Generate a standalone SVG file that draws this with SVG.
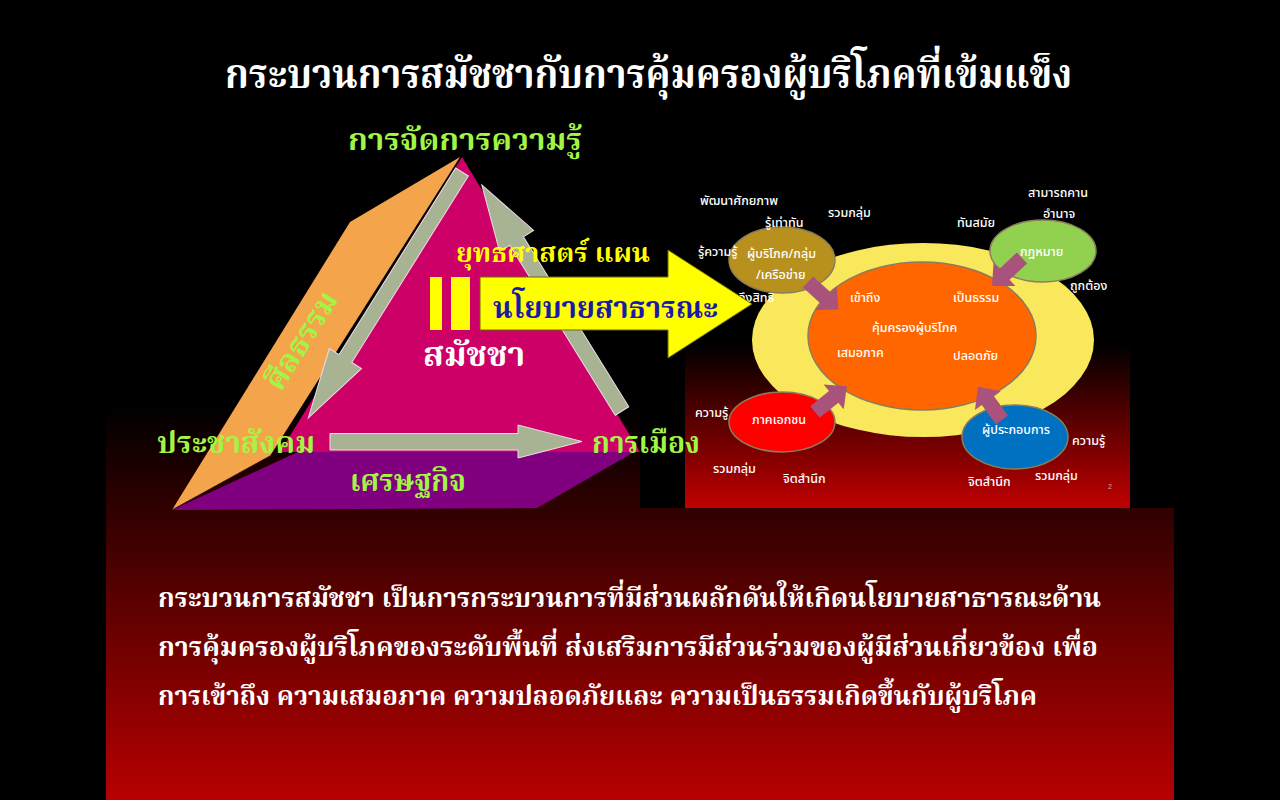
<svg xmlns="http://www.w3.org/2000/svg" width="1280" height="800" viewBox="0 0 1280 800">
<defs>
<linearGradient id="bgGrad" x1="0" y1="0" x2="0" y2="1">
<stop offset="0" stop-color="#000000"/>
<stop offset="1" stop-color="#b80000"/>
</linearGradient>
<linearGradient id="picGrad" x1="0" y1="0" x2="0" y2="1">
<stop offset="0.5" stop-color="#000000"/>
<stop offset="1" stop-color="#c00000"/>
</linearGradient>
<polygon id="mauveArrow" points="0,-7.5 24,-7.5 24,-16 41,0 24,16 24,7.5 0,7.5"/>
</defs>
<style>
.serif { font-family: "Noto Serif Thai", "Noto Sans Thai", "Liberation Serif", serif; font-weight: bold; }
.green { fill: #a2f545; }
.small { font-family: "Noto Sans Thai", "Noto Sans", "Liberation Sans", sans-serif; font-size: 12.5px; font-weight: 500; fill: #ffffff; }
.tiny { font-family: "Liberation Sans", sans-serif; font-size: 7px; fill: #e0a0a0; }
.grey { fill: #a8b394; stroke: #f0dce6; stroke-width: 1; }
.mauve { fill: #a8527c; }
.ell { stroke: #8a7d5c; stroke-width: 1.5; }
</style>
<rect x="0" y="0" width="1280" height="800" fill="#000000"/>
<rect x="106" y="405" width="1068" height="395" fill="url(#bgGrad)"/>
<rect x="640" y="400" width="534" height="108" fill="#000000"/>

<g id="title">
<text x="225" y="88" class="serif" font-size="40" fill="#ffffff" textLength="847" lengthAdjust="spacingAndGlyphs">กระบวนการสมัชชากับการคุ้มครองผู้บริโภคที่เข้มแข็ง</text>
</g>

<g id="consumer-protection-picture">
<rect x="685" y="180" width="445" height="328" fill="url(#picGrad)"/>
<g id="outer-ring"><ellipse cx="923" cy="340" rx="171" ry="97" fill="#f9e85c"/></g>
<g id="core"><ellipse cx="922" cy="336" rx="114" ry="74" fill="#ff6600" class="ell"/></g>
<g id="node-consumer"><ellipse cx="782" cy="260" rx="53" ry="33" fill="#b8901e" class="ell"/></g>
<g id="node-law"><ellipse cx="1043" cy="251" rx="53" ry="31" fill="#92d050" class="ell"/></g>
<g id="node-private"><ellipse cx="782" cy="422" rx="53" ry="30" fill="#ff0000" class="ell"/></g>
<g id="node-operator"><ellipse cx="1015" cy="437" rx="53" ry="32" fill="#0070c0" class="ell"/></g>
<g id="picture-connectors">
<use href="#mauveArrow" class="mauve" transform="translate(808,282) rotate(42)"/>
<use href="#mauveArrow" class="mauve" transform="translate(1022,258) rotate(137)"/>
<use href="#mauveArrow" class="mauve" transform="translate(815,412) rotate(-39)"/>
<use href="#mauveArrow" class="mauve" transform="translate(1002,420) rotate(-126)"/>
</g>
<g id="picture-labels">
<text x="700" y="205" class="small">พัฒนาศักยภาพ</text>
<text x="828" y="217" class="small">รวมกลุ่ม</text>
<text x="765" y="227" class="small">รู้เท่าทัน</text>
<text x="698" y="256" class="small">รู้ความรู้</text>
<text x="747" y="258" class="small">ผู้บริโภค/กลุ่ม</text>
<text x="756" y="279" class="small">/เครือข่าย</text>
<text x="738" y="302" class="small">ถึงสิทธิ</text>
<text x="957" y="227" class="small">ทันสมัย</text>
<text x="1028" y="197" class="small">สามารถคาน</text>
<text x="1043" y="218" class="small">อำนาจ</text>
<text x="1020" y="256" class="small">กฎหมาย</text>
<text x="1070" y="290" class="small">ถูกต้อง</text>
<text x="850" y="302" class="small">เข้าถึง</text>
<text x="953" y="302" class="small">เป็นธรรม</text>
<text x="872" y="332" class="small">คุ้มครองผู้บริโภค</text>
<text x="837" y="357" class="small">เสมอภาค</text>
<text x="953" y="360" class="small">ปลอดภัย</text>
<text x="695" y="417" class="small">ความรู้</text>
<text x="752" y="424" class="small">ภาคเอกชน</text>
<text x="982" y="434" class="small">ผู้ประกอบการ</text>
<text x="1072" y="445" class="small">ความรู้</text>
<text x="713" y="473" class="small">รวมกลุ่ม</text>
<text x="783" y="483" class="small">จิตสำนึก</text>
<text x="968" y="486" class="small">จิตสำนึก</text>
<text x="1035" y="480" class="small">รวมกลุ่ม</text>
<text x="1108" y="489" class="tiny">2</text>
</g>
</g>

<g id="pyramid">
<g id="face-economy"><polygon points="172,510 300,451 636,451 537,508" fill="#800080"/></g>
<g id="face-assembly"><polygon points="462,157 640,452 280,452" fill="#cc0066"/></g>
<g id="face-morality"><polygon points="460,157 350,222 172,510 270,456" fill="#f4a44a"/>
<line x1="172" y1="510" x2="270" y2="456" stroke="#3a1020" stroke-width="1"/></g>
</g>

<g id="connectors">
<polygon class="grey" transform="translate(462,172) rotate(122)" points="0,-7.5 220,-7.5 220,-19 290,0 220,19 220,7.5 0,7.5"/>
<polygon class="grey" transform="translate(622,411) rotate(-121.8)" points="0,-8 200,-8 200,-20 266,0 200,20 200,8 0,8"/>
<polygon class="grey" points="330,433.5 518,433.5 518,425 582,441.5 518,458 518,450 330,450"/>
</g>

<g id="policy-arrow">
<rect x="430" y="277" width="12" height="53" fill="#ffff00"/>
<rect x="451" y="277" width="19" height="53" fill="#ffff00"/>
<polygon points="480,277 668,277 668,250 752,304 668,358 668,330 480,330" fill="#ffff00" stroke="#6b6b00" stroke-width="1"/>
<text x="493" y="318" class="serif" font-size="30" fill="#1a1aa8" textLength="225" lengthAdjust="spacingAndGlyphs">นโยบายสาธารณะ</text>
<text x="456" y="262" class="serif" font-size="26" fill="#ffff00" textLength="194" lengthAdjust="spacingAndGlyphs">ยุทธศาสตร์ แผน</text>
</g>

<g id="pyramid-labels">
<text x="465" y="150" class="serif green" font-size="30" text-anchor="middle" textLength="234" lengthAdjust="spacingAndGlyphs">การจัดการความรู้</text>
<text x="0" y="0" class="serif green" font-size="31" text-anchor="middle" transform="translate(310,346) rotate(-58)">ศีลธรรม</text>
<text x="474" y="366" class="serif" font-size="34" fill="#ffffff" text-anchor="middle" textLength="102" lengthAdjust="spacingAndGlyphs">สมัชชา</text>
<text x="157" y="453" class="serif green" font-size="30" textLength="158" lengthAdjust="spacingAndGlyphs">ประชาสังคม</text>
<text x="592" y="453" class="serif green" font-size="30" textLength="108" lengthAdjust="spacingAndGlyphs">การเมือง</text>
<text x="408" y="491" class="serif green" font-size="30" text-anchor="middle" textLength="116" lengthAdjust="spacingAndGlyphs">เศรษฐกิจ</text>
</g>

<g id="description">
<text x="158" y="607" class="serif" font-size="26" fill="#ffffff" textLength="943" lengthAdjust="spacingAndGlyphs">กระบวนการสมัชชา เป็นการกระบวนการที่มีส่วนผลักดันให้เกิดนโยบายสาธารณะด้าน</text>
<text x="158" y="656" class="serif" font-size="26" fill="#ffffff" textLength="940" lengthAdjust="spacingAndGlyphs">การคุ้มครองผู้บริโภคของระดับพื้นที่ ส่งเสริมการมีส่วนร่วมของผู้มีส่วนเกี่ยวข้อง เพื่อ</text>
<text x="158" y="705" class="serif" font-size="26" fill="#ffffff" textLength="879" lengthAdjust="spacingAndGlyphs">การเข้าถึง ความเสมอภาค ความปลอดภัยและ ความเป็นธรรมเกิดขึ้นกับผู้บริโภค</text>
</g>
</svg>
